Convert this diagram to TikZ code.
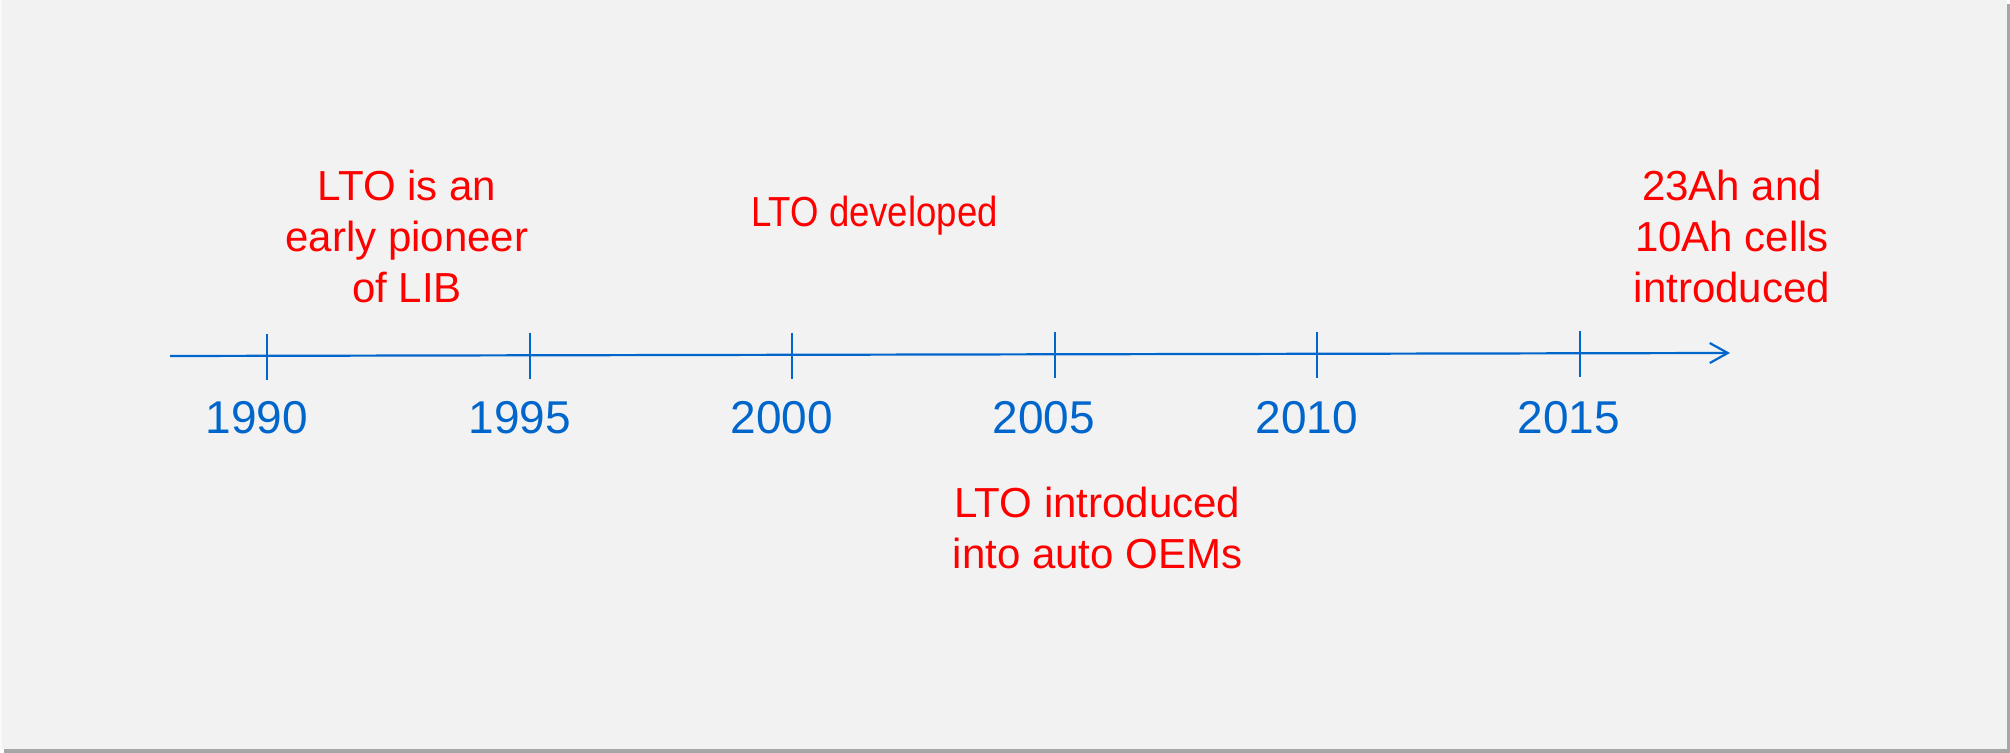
\documentclass[tikz,border=0pt]{standalone}
\usepackage{fontspec}
\setmainfont{Liberation Sans}
\usetikzlibrary{arrows.meta,calc}
\definecolor{bgc}{HTML}{F2F2F2}
\definecolor{shadowc}{HTML}{A6A6A6}
\definecolor{axisblue}{HTML}{0066CC}
\definecolor{evred}{HTML}{FF0000}
\tikzset{
  axisline/.style={draw=axisblue, line width=1.1pt, -{Straight Barb[length=9pt,width=10pt,line width=1.1pt]}},
  tickline/.style={draw=axisblue, line width=1.1pt},
  yearlabel/.style={text=axisblue, font=\fontsize{23pt}{27pt}\selectfont, inner sep=0pt, anchor=base},
  eventlabel/.style={text=evred, font=\fontsize{21pt}{25.5pt}\selectfont, align=center, inner sep=0pt, anchor=north},
}
\begin{document}
\begin{tikzpicture}[x=0.5pt,y=-0.5pt]
\useasboundingbox (0,0) rectangle (2010,753);
\fill[shadowc] (4,4) rectangle (2010,753);
\fill[bgc] (0,0) rectangle (2007,749);
\fill[white!60!bgc] (0,0) rectangle (2,749);
% axis
\coordinate (s) at (170,356);
\coordinate (e) at (1730,353);
\draw[axisline] (s) -- (e);
\foreach \f [count=\i] in {0.0622,0.2308,0.3987,0.5673,0.7353,0.9038}{
  \coordinate (t\i) at ($(s)!\f!(e)$);
  \draw[tickline] ([yshift=11pt]t\i) -- ([yshift=-12pt]t\i);
}
% years
\node[yearlabel] (y1990) at (257,434) {1990};
\node[yearlabel] (y1995) at (520,434) {1995};
\node[yearlabel] (y2000) at (782,434) {2000};
\node[yearlabel] (y2005) at (1044,434) {2005};
\node[yearlabel] (y2010) at (1307,434) {2010};
\node[yearlabel] (y2015) at (1569,434) {2015};
% events
\node[eventlabel] (ev1) at (407,170) {LTO is an\\early pioneer\\of LIB};
\node[eventlabel, xscale=0.87] (ev2) at (874.5,196) {LTO developed};
\node[eventlabel] (ev3) at (1732,170) {23Ah and\\10Ah cells\\introduced};
\node[eventlabel] (ev4) at (1097.5,487) {LTO introduced\\into auto OEMs};
\end{tikzpicture}
\end{document}
